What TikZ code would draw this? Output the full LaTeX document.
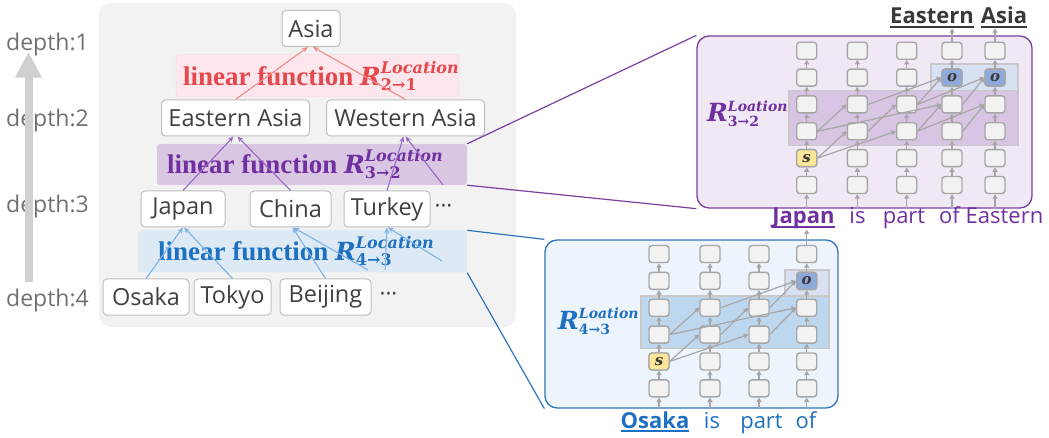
\documentclass[tikz,border=0pt]{standalone}
\usepackage{fontspec}
\setmainfont{Open Sans}
\newfontfamily\lfserif{Liberation Serif}
\newfontfamily\relserif{DejaVu Serif}
\usetikzlibrary{positioning,arrows.meta}

% colours
\definecolor{bggray}{HTML}{F2F2F2}
\definecolor{nodeline}{HTML}{BFBFBF}
\definecolor{txtgray}{HTML}{404040}
\definecolor{depthgray}{HTML}{707070}
\definecolor{depthbar}{HTML}{D0D0D0}
\definecolor{redtxt}{HTML}{E5484D}
\definecolor{redfill}{HTML}{FDE6EC}
\definecolor{redline}{HTML}{F9D0DA}
\definecolor{redarr}{HTML}{F08A8A}
\definecolor{purtxt}{HTML}{7030A0}
\definecolor{purfill}{HTML}{D9C6E2}
\definecolor{purarr}{HTML}{9A66C8}
\definecolor{bluetxt}{HTML}{1E70C1}
\definecolor{bluefill}{HTML}{DDEAF6}
\definecolor{bluearr}{HTML}{7EB3E6}
\definecolor{purpanel}{HTML}{F0E8F5}
\definecolor{purpanelline}{HTML}{7B3FA0}
\definecolor{bluepanel}{HTML}{EEF4FB}
\definecolor{bluepanelline}{HTML}{2E75C0}
\definecolor{cellline}{HTML}{A6A6A6}
\definecolor{cellfill}{HTML}{F2F2F2}
\definecolor{hlline}{HTML}{C9C9C9}
\definecolor{purhl}{HTML}{D8C4E3}
\definecolor{bluehl}{HTML}{BDD7EE}
\definecolor{oregion}{HTML}{D8E1F2}
\definecolor{ofill}{HTML}{8EAADB}
\definecolor{sfill}{HTML}{FFE699}
\definecolor{txtdark}{HTML}{3A3838}

% relation symbol R with sub- and superscript
\newcommand{\relfn}[3][16]{%
  {\relserif\bfseries\itshape\fontsize{25}{25}\selectfont R}%
  \rlap{\raisebox{-5pt}{\relserif\bfseries\fontsize{#1}{#1}\selectfont #2}}%
  \raisebox{\dimexpr #1pt*3/4\relax}{\relserif\bfseries\itshape\fontsize{#1}{#1}\selectfont #3}}

% underlined word
\newlength{\ulwidth}
\newcommand{\ulword}[1]{\settowidth{\ulwidth}{#1}\rlap{\rule[-4pt]{\ulwidth}{1.8pt}}#1}

\tikzset{
  tnode/.style={draw=nodeline, fill=white, line width=1pt, rounded corners=4pt, text=txtgray,
    font=\fontsize{23.5}{23.5}\selectfont, minimum height=36pt, inner sep=0pt},
  dots/.style={text=txtgray, font=\fontsize{22}{22}\selectfont, inner sep=0pt},
  band/.style={rounded corners=3pt, minimum height=42pt, inner sep=0pt},
  bandtext/.style={font=\lfserif\bfseries\fontsize{27}{27}\selectfont, inner sep=0pt},
  depthlbl/.style={text=depthgray, font=\fontsize{23}{23}\selectfont, inner sep=0pt},
  treearrow/.style={-{Stealth[length=6pt,width=5pt]}, line width=1.1pt},
  panel/.style={rounded corners=12pt, line width=1.3pt},
  cell/.style={draw=cellline, fill=cellfill, line width=1.4pt, rounded corners=3pt,
    minimum width=20pt, minimum height=17pt, inner sep=0pt},
  symb/.style={font=\relserif\bfseries\itshape\fontsize{15}{15}\selectfont},
  cellarrow/.style={-{Triangle[length=4.5pt,width=5pt]}, draw=cellline, line width=1.2pt},
  hlbox/.style={draw=hlline, line width=1.5pt},
  word/.style={font=\fontsize{22}{22}\selectfont, anchor=base, inner sep=0pt},
  wordb/.style={font=\bfseries\fontsize{22}{22}\selectfont, anchor=base, inner sep=0pt},
}

\begin{document}
\begin{tikzpicture}[x=1pt, y=-1pt]
    \useasboundingbox (0,0) rectangle (1049,438);

        % Tree background
        \fill[bggray, rounded corners=12pt] (99,3) rectangle (516,327);

        % Depth axis
        \node[depthlbl] (d1) at (47.5,45) {depth:1};
        \node[depthlbl] (d2) at (47.5,121) {depth:2};
        \node[depthlbl] (d3) at (47.5,207) {depth:3};
        \node[depthlbl] (d4) at (47.5,301) {depth:4};
        \draw[depthbar, line width=8pt, -{Triangle[length=26pt,width=25pt]}]
            ([xshift=-19pt,yshift=7pt]d4.north) -- ([xshift=-19pt,yshift=5pt]d1.south);

        % Linear function bands
        \node[band, fill=redfill, draw=redline, minimum width=283pt] (band21) at (317.5,75.5) {};
        \node[band, fill=purfill, minimum width=310pt, minimum height=41pt] (band32) at (312,164.5) {};
        \node[band, fill=bluefill, minimum width=329pt] (band43) at (302.5,251.5) {};
        \node[bandtext, text=redtxt] (lf21) at ([xshift=3.5pt]band21.center) {linear function \relfn{2→1}{Location}};
        \node[bandtext, text=purtxt] (lf32) at ([xshift=-7pt]band32.center) {linear function \relfn{3→2}{Location}};
        \node[bandtext, text=bluetxt] (lf43) at ([xshift=-6.5pt]band43.center) {linear function \relfn{4→3}{Location}};

        % Entities, one row per depth
        \node[tnode, minimum width=58pt] (asia) at (311,28.5) {Asia};
        \node[tnode, minimum width=148pt] (eastasia) at (235.5,118) {Eastern Asia};
        \node[tnode, minimum width=158pt, right=16pt of eastasia] (westasia) {Western Asia};
        \node[tnode, minimum width=84pt] (japan) at (183,209) {Japan};
        \node[tnode, minimum width=81pt, right=24pt of japan] (china) {China};
        \node[tnode, minimum width=86pt, right=12pt of china] (turkey) {Turkey};
        \node[dots, right=4pt of turkey] (dots3) {···};
        \node[tnode, minimum width=86pt] (osaka) at (146,297) {Osaka};
        \node[tnode, minimum width=77pt, right=4pt of osaka] (tokyo) {Tokyo};
        \node[tnode, minimum width=91pt, right=8pt of tokyo] (beijing) {Beijing};
        \node[dots, right=8pt of beijing] (dots4) {···};

        % Loose ends of the tree edges
        \coordinate (c32) at (443,185);
        \coordinate (c43a) at (368,270);
        \coordinate (c43b) at (385,270);
        \coordinate (c43c) at (442,261);

        % Depth 2 -> depth 1
        \draw[treearrow, redarr] (eastasia.north) -- ([xshift=-3pt]asia.south);
        \draw[treearrow, redarr] (westasia.north) -- ([xshift=2pt]asia.south);

        % Depth 3 -> depth 2
        \draw[treearrow, purarr] (japan.north) -- ([xshift=-2pt]eastasia.south);
        \draw[treearrow, purarr] (china.north) -- ([xshift=2pt]eastasia.south);
        \draw[treearrow, purarr] (turkey.north) -- ([xshift=-2pt]westasia.south);
        \draw[treearrow, purarr] (c32) -- (westasia.south);

        % Depth 4 -> depth 3
        \draw[treearrow, bluearr] (osaka.north) -- (japan.south);
        \draw[treearrow, bluearr] (tokyo.north) -- ([xshift=1pt]japan.south);
        \draw[treearrow, bluearr] (beijing.north) -- ([xshift=2pt]china.south);
        \draw[treearrow, bluearr] (c43a) -- ([xshift=3pt]china.south);
        \draw[treearrow, bluearr] (c43b) -- (turkey.south);
        \draw[treearrow, bluearr] (c43c) -- ([xshift=1pt]turkey.south);

        % Zoomed-in panels
        \node[panel, draw=purpanelline, fill=purpanel, minimum width=335pt, minimum height=172pt] (ppanel) at (864.5,122) {};
        \node[panel, draw=bluepanelline, fill=bluepanel, minimum width=293pt, minimum height=168pt] (bpanel) at (691.5,324) {};
        \draw[purpanelline, line width=1.2pt] (band32.north east) -- (ppanel.north west);
        \draw[purpanelline, line width=1.2pt] (band32.south east) -- (ppanel.south west);
        \draw[bluepanelline, line width=1.2pt] (band43.north east) -- (bpanel.north west);
        \draw[bluepanelline, line width=1.2pt] (band43.south east) -- (bpanel.south west);

        % Highlighted layers
        \draw[hlbox, fill=purhl] (789,90.7) rectangle (1018,145.7);
        \draw[hlbox, fill=oregion] (931,64) rectangle (1018,90.7);
        \draw[hlbox, fill=bluehl] (641,296) rectangle (829,348.5);
        \draw[hlbox, fill=oregion] (785,270) rectangle (829,296);

        % Hidden states, depth 3 -> 2
        \foreach \c/\x in {1/806.7,2/857.3,3/906.7,4/952,5/995}
            \foreach \r in {1,...,6}
                \node[cell] (p-\c-\r) at (\x,{185-(\r-1)*26.85}) {};
        \node[cell, fill=sfill, symb, text=txtdark] (ps) at (p-1-2) {s};
        \node[cell, fill=ofill, symb, text=txtdark] (po4) at (p-4-5) {o};
        \node[cell, fill=ofill, symb, text=txtdark] (po5) at (p-5-5) {o};

        % Hidden states, depth 4 -> 3
        \foreach \c/\x in {1/659,2/710,3/759,4/806.7}
            \foreach \r in {1,...,6}
                \node[cell] (b-\c-\r) at (\x,{388.3-(\r-1)*26.85}) {};
        \node[cell, fill=sfill, symb, text=txtdark] (bs) at (b-1-2) {s};
        \node[cell, fill=ofill, symb, text=txtdark] (bo) at (b-4-5) {o};

        % Residual stream
        \foreach \c in {1,...,5} {
            \draw[cellarrow] (p-\c-1 |- ppanel.south) -- (p-\c-1);
            \foreach \r/\n in {1/2,2/3,3/4,4/5,5/6}
                \draw[cellarrow] (p-\c-\r) -- (p-\c-\n);
        }
        \foreach \c in {1,...,4} {
            \draw[cellarrow] (b-\c-1 |- bpanel.south) -- (b-\c-1);
            \foreach \r/\n in {1/2,2/3,3/4,4/5,5/6}
                \draw[cellarrow] (b-\c-\r) -- (b-\c-\n);
        }

        % Attention from s towards o
        \foreach \a/\b in {1-2/2-3,1-2/3-3,1-3/2-4,1-3/4-4,2-3/3-4,3-3/4-4,3-3/5-4,4-3/5-4,2-4/4-5,3-4/4-5,3-4/5-5,4-4/5-5}
            \draw[cellarrow] (p-\a.east) -- (p-\b.west);
        \foreach \a/\b in {1-2/2-3,1-2/3-3,1-3/2-4,1-3/4-4,2-3/3-4,3-3/4-4,2-4/4-5,3-4/4-5}
            \draw[cellarrow] (b-\a.east) -- (b-\b.west);

        % Panel labels
        \node[anchor=base west, text=purtxt, inner sep=0pt] (r32) at (707,122) {\relfn[14]{3→2}{Loation}};
        \node[anchor=base west, text=bluetxt, inner sep=0pt] (r43) at (558,329) {\relfn[14]{4→3}{Loation}};

        % Prompt tokens
        \node[wordb, text=purtxt] (w-japan) at (803.5,224) {\ulword{Japan}};
        \node[word, text=purtxt] (w-is1) at (857.5,224) {is};
        \node[word, text=purtxt] (w-part1) at (904,224) {part};
        \node[word, text=purtxt] (w-of1) at (949.5,224) {of};
        \node[word, text=purtxt] (w-east1) at (1004.5,224) {Eastern};
        \node[wordb, text=bluetxt] (w-osaka) at (655,428) {\ulword{Osaka}};
        \node[word, text=bluetxt] (w-is2) at (712,428) {is};
        \node[word, text=bluetxt] (w-part2) at (761.5,428) {part};
        \node[word, text=bluetxt] (w-of2) at (806,428) {of};
        \node[wordb, text=txtdark] (w-east) at (932,24) {\ulword{Eastern}};
        \node[wordb, text=txtdark] (w-asia) at (1004,24) {\ulword{Asia}};

        % Outputs
        \draw[cellarrow] (p-4-6) -- (p-4-6 |- w-east.south);
        \draw[cellarrow] (p-5-6) -- (p-5-6 |- w-asia.south);
        \draw[cellarrow] (b-4-6) -- (b-4-6 |- w-japan.south);

\end{tikzpicture}
\end{document}
